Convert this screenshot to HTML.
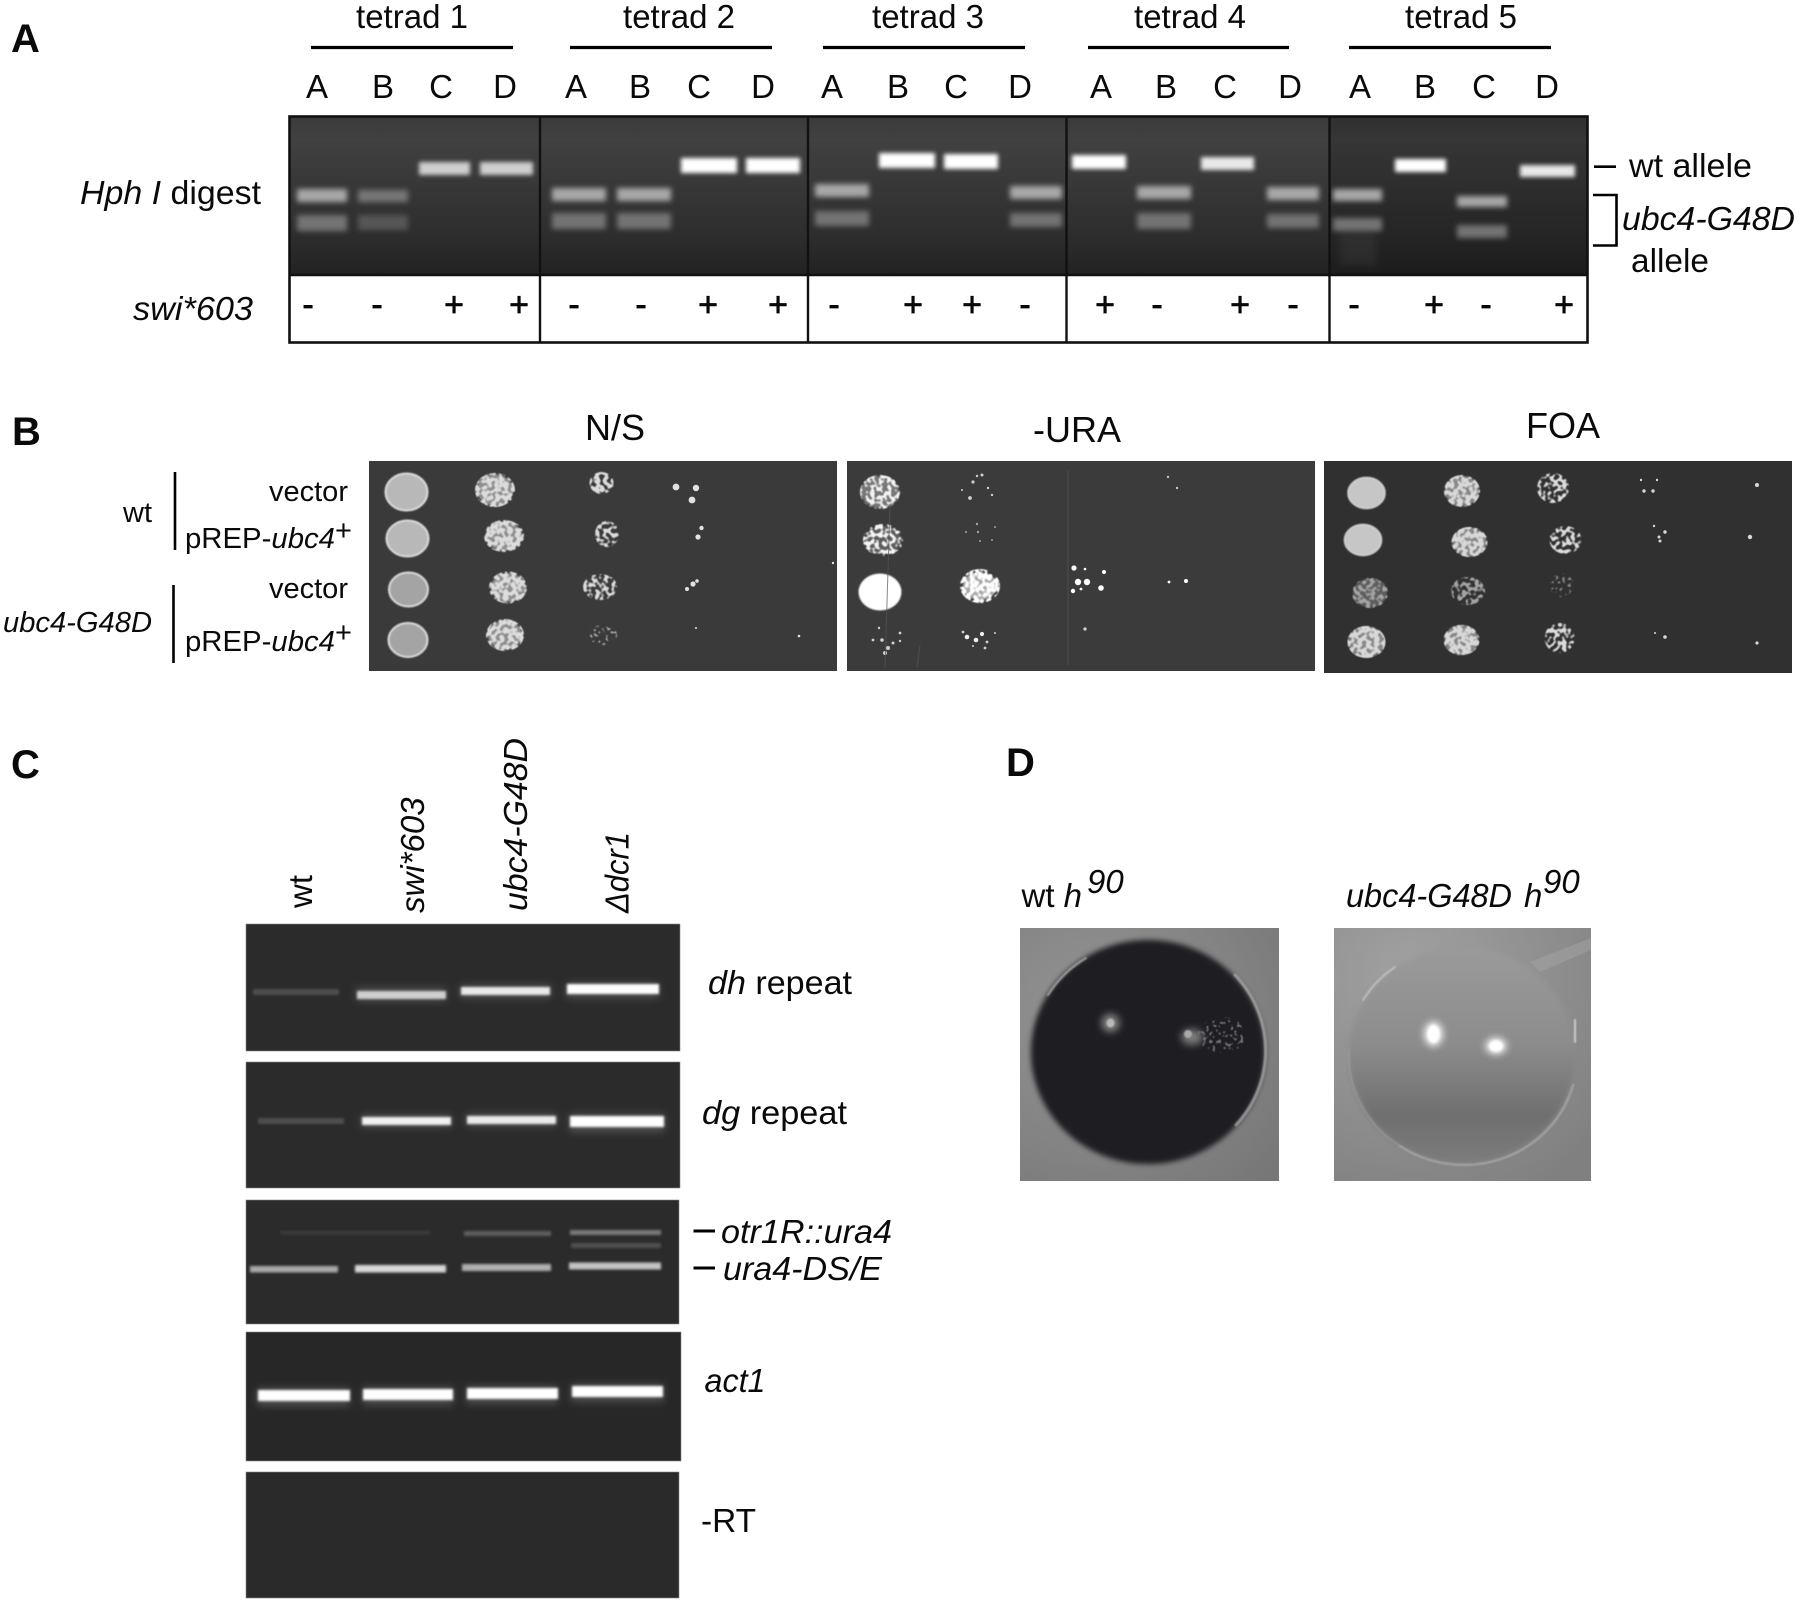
<!DOCTYPE html>
<html>
<head>
<meta charset="utf-8">
<title>Figure</title>
<style>
html,body{margin:0;padding:0;background:#fff}
svg{display:block}
text{font-family:"Liberation Sans",Arial,sans-serif;fill:#0a0a0a}
.t{font-size:33px}
.h{font-size:36px}
.s{font-size:29px}
.i{font-style:italic}
.b{font-weight:bold;font-size:40px}
.m{text-anchor:middle}
.pm{font-size:34px;text-anchor:middle;stroke:#000;stroke-width:.7px}
</style>
</head>
<body>
<svg xmlns="http://www.w3.org/2000/svg" width="1800" height="1602" viewBox="0 0 1800 1602">
<defs>
<linearGradient id="gelA" x1="0" y1="0" x2="0" y2="1">
<stop offset="0" stop-color="#3a3a3a"/><stop offset=".15" stop-color="#414141"/><stop offset=".42" stop-color="#383838"/><stop offset=".78" stop-color="#2c2c2c"/><stop offset="1" stop-color="#222"/>
</linearGradient>
<radialGradient id="bg1" cx=".3" cy=".35" r=".9"><stop offset="0" stop-color="#959595"/><stop offset="1" stop-color="#777"/></radialGradient>
<radialGradient id="bg2" cx=".3" cy=".2" r=".95"><stop offset="0" stop-color="#a2a2a2"/><stop offset="1" stop-color="#808080"/></radialGradient>
<linearGradient id="dome" x1="0" y1="0" x2="0" y2="1"><stop offset="0" stop-color="#9a9a9a"/><stop offset=".45" stop-color="#8c8c8c"/><stop offset=".78" stop-color="#6f6f6f"/><stop offset="1" stop-color="#7c7c7c"/></linearGradient>
<filter id="b3" x="-30%" y="-80%" width="160%" height="260%" color-interpolation-filters="sRGB"><feGaussianBlur stdDeviation="2.6"/></filter>
<filter id="b2" x="-20%" y="-60%" width="140%" height="220%" color-interpolation-filters="sRGB"><feGaussianBlur stdDeviation="2"/></filter>
<filter id="b1" x="-20%" y="-60%" width="140%" height="220%" color-interpolation-filters="sRGB"><feGaussianBlur stdDeviation="1.2"/></filter>
<filter id="b4" x="-20%" y="-100%" width="140%" height="300%" color-interpolation-filters="sRGB"><feGaussianBlur stdDeviation="4"/></filter>
<filter id="b3c" x="-20%" y="-20%" width="140%" height="140%" color-interpolation-filters="sRGB"><feGaussianBlur stdDeviation="2.6"/></filter>
<filter id="b6c" x="-60%" y="-60%" width="220%" height="220%" color-interpolation-filters="sRGB"><feGaussianBlur stdDeviation="4"/></filter>
<filter id="soft" x="-5%" y="-5%" width="110%" height="110%" color-interpolation-filters="sRGB"><feGaussianBlur stdDeviation=".7"/></filter>
<filter id="sp" x="-2%" y="-2%" width="104%" height="104%" color-interpolation-filters="sRGB">
<feTurbulence type="fractalNoise" baseFrequency=".24" numOctaves="1" seed="4" result="n"/>
<feColorMatrix in="n" type="matrix" values="0 0 0 0 0 0 0 0 0 0 0 0 0 0 0 9 0 0 0 -4.1" result="m"/>
<feComposite in="SourceGraphic" in2="m" operator="in"/>
<feGaussianBlur stdDeviation=".6"/>
</filter>
<filter id="spD" x="-2%" y="-2%" width="104%" height="104%" color-interpolation-filters="sRGB">
<feTurbulence type="fractalNoise" baseFrequency=".24" numOctaves="1" seed="9" result="n"/>
<feColorMatrix in="n" type="matrix" values="0 0 0 0 0 0 0 0 0 0 0 0 0 0 0 9 0 0 0 -3.6" result="m"/>
<feComposite in="SourceGraphic" in2="m" operator="in"/>
<feGaussianBlur stdDeviation=".6"/>
</filter>
<filter id="spS" x="-2%" y="-2%" width="104%" height="104%" color-interpolation-filters="sRGB">
<feTurbulence type="fractalNoise" baseFrequency=".32" numOctaves="1" seed="15" result="n"/>
<feColorMatrix in="n" type="matrix" values="0 0 0 0 0 0 0 0 0 0 0 0 0 0 0 12 0 0 0 -6.8" result="m"/>
<feComposite in="SourceGraphic" in2="m" operator="in"/>
<feGaussianBlur stdDeviation=".5"/>
</filter>
</defs>
<rect width="1800" height="1602" fill="#fff"/>

<!-- PANEL A -->
<text class="b" x="11" y="52">A</text>
<text class="t m" x="412" y="28">tetrad 1</text>
<text class="t m" x="679" y="28">tetrad 2</text>
<text class="t m" x="928" y="28">tetrad 3</text>
<text class="t m" x="1190" y="28">tetrad 4</text>
<text class="t m" x="1461" y="28">tetrad 5</text>
<g stroke="#000" stroke-width="3.2">
<line x1="311" y1="47.5" x2="513" y2="47.5"/>
<line x1="570" y1="47.5" x2="772" y2="47.5"/>
<line x1="823" y1="47.5" x2="1025" y2="47.5"/>
<line x1="1088" y1="47.5" x2="1289" y2="47.5"/>
<line x1="1349" y1="47.5" x2="1551" y2="47.5"/>
</g>
<g>
<text class="t m" x="317" y="98">A</text><text class="t m" x="383" y="98">B</text><text class="t m" x="441" y="98">C</text><text class="t m" x="505" y="98">D</text>
<text class="t m" x="576" y="98">A</text><text class="t m" x="640" y="98">B</text><text class="t m" x="699" y="98">C</text><text class="t m" x="763" y="98">D</text>
<text class="t m" x="832" y="98">A</text><text class="t m" x="898" y="98">B</text><text class="t m" x="956" y="98">C</text><text class="t m" x="1020" y="98">D</text>
<text class="t m" x="1101" y="98">A</text><text class="t m" x="1166" y="98">B</text><text class="t m" x="1225" y="98">C</text><text class="t m" x="1290" y="98">D</text>
<text class="t m" x="1360" y="98">A</text><text class="t m" x="1425" y="98">B</text><text class="t m" x="1484" y="98">C</text><text class="t m" x="1547" y="98">D</text>
</g>
<rect x="289" y="116" width="1299" height="159" fill="url(#gelA)"/>
<rect x="1329" y="116" width="259" height="159" fill="#000" opacity=".17"/>
<rect x="1340" y="230" width="36" height="36" fill="#555" opacity=".22" filter="url(#b6c)"/>
<!-- digest bands -->
<g filter="url(#b3)">
<g fill="#a8a8a8">
<rect x="297" y="189" width="50" height="13"/>
<rect x="552" y="188" width="54" height="13"/><rect x="617" y="188" width="54" height="13"/>
<rect x="815" y="184" width="54" height="13"/><rect x="1010" y="186" width="52" height="13"/>
<rect x="1137" y="186" width="54" height="13"/><rect x="1267" y="187" width="52" height="13"/>
<rect x="1333" y="189" width="49" height="12"/><rect x="1457" y="196" width="50" height="11"/>
</g>
<rect x="358" y="190" width="50" height="12" fill="#777"/>
<g fill="#737373">
<rect x="297" y="215" width="50" height="16"/><rect x="552" y="213" width="54" height="16"/><rect x="617" y="213" width="54" height="16"/>
<rect x="815" y="211" width="54" height="15"/><rect x="1010" y="213" width="52" height="14"/><rect x="1137" y="213" width="54" height="16"/>
<rect x="1267" y="214" width="52" height="14"/><rect x="1333" y="218" width="49" height="13"/><rect x="1457" y="225" width="50" height="13"/>
</g>
<rect x="358" y="215" width="50" height="15" fill="#565656"/>
</g>
<!-- wt bands -->
<g filter="url(#b2)">
<g fill="#cfcfcf">
<rect x="419" y="162" width="51" height="13"/><rect x="480" y="162" width="53" height="13"/>
</g>
<g fill="#ffffff">
<rect x="681" y="158" width="56" height="15"/><rect x="746" y="158" width="54" height="15"/>
<rect x="879" y="153" width="56" height="15"/><rect x="944" y="154" width="54" height="15"/>
<rect x="1072" y="155" width="54" height="14"/><rect x="1395" y="159" width="51" height="13"/>
</g>
<g fill="#e8e8e8">
<rect x="1201" y="157" width="53" height="13"/><rect x="1520" y="165" width="55" height="12"/>
</g>
</g>
<!-- table frame -->
<g fill="none" stroke="#111">
<rect x="289.5" y="116.5" width="1298" height="226" stroke-width="2.6"/>
<line x1="289" y1="275" x2="1588" y2="275" stroke-width="2.6"/>
<line x1="540" y1="116" x2="540" y2="343" stroke-width="2.4"/>
<line x1="808" y1="116" x2="808" y2="343" stroke-width="2.4"/>
<line x1="1066.5" y1="116" x2="1066.5" y2="343" stroke-width="2.4"/>
<line x1="1329.5" y1="116" x2="1329.5" y2="343" stroke-width="2.4"/>
</g>
<g>
<text class="pm" x="308" y="316">-</text><text class="pm" x="377" y="316">-</text><text class="pm" x="454" y="316">+</text><text class="pm" x="519" y="316">+</text>
<text class="pm" x="574" y="316">-</text><text class="pm" x="641" y="316">-</text><text class="pm" x="708" y="316">+</text><text class="pm" x="778" y="316">+</text>
<text class="pm" x="834" y="316">-</text><text class="pm" x="913" y="316">+</text><text class="pm" x="972" y="316">+</text><text class="pm" x="1025" y="316">-</text>
<text class="pm" x="1105" y="316">+</text><text class="pm" x="1157" y="316">-</text><text class="pm" x="1240" y="316">+</text><text class="pm" x="1293" y="316">-</text>
<text class="pm" x="1354" y="316">-</text><text class="pm" x="1434" y="316">+</text><text class="pm" x="1486" y="316">-</text><text class="pm" x="1564" y="316">+</text>
</g>
<text class="t" x="80" y="204" textLength="181" lengthAdjust="spacingAndGlyphs"><tspan class="i">Hph I</tspan> digest</text>
<text class="t i" x="133" y="320" textLength="120" lengthAdjust="spacingAndGlyphs">swi*603</text>
<line x1="1594" y1="166.7" x2="1616" y2="166.7" stroke="#000" stroke-width="2.6"/>
<text class="t" x="1629" y="177" textLength="123" lengthAdjust="spacingAndGlyphs">wt allele</text>
<path d="M1593 195H1616.5V245.5H1593" fill="none" stroke="#000" stroke-width="2.6"/>
<text class="t i" x="1622" y="230" textLength="173" lengthAdjust="spacingAndGlyphs">ubc4-G48D</text>
<text class="t" x="1631" y="272" textLength="78" lengthAdjust="spacingAndGlyphs">allele</text>

<!-- PANEL B -->
<text class="b" x="12" y="445">B</text>
<text class="h" x="585" y="440">N/S</text>
<text class="h" x="1033" y="442">-URA</text>
<text class="h" x="1526" y="438">FOA</text>
<text class="s" x="269" y="501">vector</text>
<text class="s" x="185" y="548" textLength="150" lengthAdjust="spacingAndGlyphs">pREP-<tspan class="i">ubc4</tspan></text>
<text class="s" x="335" y="540">+</text>
<text class="s" x="123" y="522">wt</text>
<text class="s" x="269" y="598">vector</text>
<text class="s" x="185" y="651" textLength="150" lengthAdjust="spacingAndGlyphs">pREP-<tspan class="i">ubc4</tspan></text>
<text class="s" x="335" y="642">+</text>
<text class="s i" x="3" y="632" textLength="149" lengthAdjust="spacingAndGlyphs">ubc4-G48D</text>
<line x1="175" y1="472" x2="175" y2="550" stroke="#000" stroke-width="2.6"/>
<line x1="173.5" y1="585" x2="173.5" y2="663" stroke="#000" stroke-width="2.6"/>

<rect x="369" y="461" width="468" height="210" fill="#3a3a3a"/>
<rect x="847" y="461" width="468" height="210" fill="#3b3b3b"/>
<rect x="1324" y="461" width="468" height="212" fill="#303030"/>

<!-- N/S solid -->
<g fill="#b8b8b8" stroke="#dedede" stroke-width="2" filter="url(#soft)">
<ellipse cx="406.5" cy="492" rx="21" ry="18.5"/>
<ellipse cx="407.5" cy="538.5" rx="21" ry="18"/>
<ellipse cx="408.5" cy="589.5" rx="19.5" ry="17" fill="#a4a4a4"/>
<ellipse cx="408" cy="640" rx="19.5" ry="17" fill="#a4a4a4"/>
</g>
<g fill="#8f8f8f" filter="url(#soft)">
<ellipse cx="495" cy="490" rx="18" ry="15.5"/><ellipse cx="504" cy="536" rx="18" ry="14.5"/>
<ellipse cx="508" cy="587.5" rx="17" ry="14.5"/><ellipse cx="505" cy="635" rx="17" ry="14.5"/>
</g>
<g fill="#dcdcdc" filter="url(#spD)">
<ellipse cx="495" cy="490" rx="20" ry="17"/><ellipse cx="504" cy="536" rx="20" ry="16"/>
<ellipse cx="508" cy="587.5" rx="19" ry="16"/><ellipse cx="505" cy="635" rx="19" ry="16"/>
<ellipse cx="601.5" cy="483" rx="12" ry="11"/>
</g>
<g fill="#dcdcdc" filter="url(#sp)">
<ellipse cx="607" cy="534" rx="12" ry="13"/><ellipse cx="600" cy="587" rx="17" ry="13"/>
</g>
<g fill="#b0b0b0" filter="url(#spS)"><ellipse cx="603" cy="635" rx="14" ry="10"/></g>
<g fill="#e2e2e2">
<circle cx="676" cy="487" r="3.4"/><circle cx="696" cy="488" r="3.2"/><circle cx="692" cy="500" r="3.4"/>
<circle cx="701.5" cy="528" r="2.2"/><circle cx="698" cy="537" r="2.6"/>
<circle cx="693" cy="584" r="2.6"/><circle cx="687" cy="589" r="2"/><circle cx="697" cy="581" r="1.8"/>
<circle cx="696" cy="628" r="1"/><circle cx="799" cy="636" r="1.3"/><circle cx="833" cy="563" r="1.2"/>
</g>

<!-- -URA -->
<ellipse cx="880" cy="592" rx="21.5" ry="18.5" fill="#fff" filter="url(#soft)"/>
<g fill="#777" filter="url(#soft)"><ellipse cx="880" cy="492" rx="19" ry="16"/><ellipse cx="883" cy="540" rx="18" ry="14" opacity=".6"/></g>
<g fill="#f4f4f4" filter="url(#sp)">
<ellipse cx="880" cy="492" rx="20" ry="17"/><ellipse cx="883" cy="540" rx="20" ry="16"/>
</g>
<ellipse cx="980" cy="586" rx="17" ry="14" fill="#aaa" filter="url(#soft)"/>
<g fill="#fff" filter="url(#spD)"><ellipse cx="980" cy="586" rx="20" ry="17"/></g>
<g fill="#cfcfcf">
<circle cx="970" cy="498" r="1.9"/><circle cx="982" cy="475" r="1.5"/><circle cx="973" cy="482" r="1.6"/><circle cx="977" cy="476" r="1.2"/><circle cx="988" cy="488" r="1.2"/><circle cx="992" cy="495" r="1.2"/><circle cx="962" cy="490" r="1"/>
<circle cx="977" cy="524" r="1.2" opacity=".7"/><circle cx="978" cy="532" r="1.2" opacity=".7"/><circle cx="966" cy="532" r="1" opacity=".7"/><circle cx="995" cy="527" r="1" opacity=".7"/><circle cx="980" cy="541" r="1" opacity=".7"/><circle cx="992" cy="540" r="1" opacity=".7"/>
<circle cx="879" cy="628" r="1.2"/><circle cx="882" cy="640" r="1.8"/><circle cx="873" cy="640" r="1.4"/><circle cx="900" cy="633" r="1.4"/><circle cx="893" cy="643" r="1.5"/><circle cx="900" cy="641" r="1.2"/><circle cx="885" cy="653" r="2"/><circle cx="888" cy="648" r="2"/>
<circle cx="967" cy="637" r="2.3" fill="#eee"/><circle cx="976" cy="640" r="2.3" fill="#eee"/><circle cx="982" cy="634" r="2.1" fill="#eee"/><circle cx="963" cy="632" r="1.4"/><circle cx="987" cy="642" r="1.4"/><circle cx="985" cy="648" r="1.4"/><circle cx="995" cy="633" r="1"/><circle cx="973" cy="646" r="1"/>
</g>
<g fill="#fff">
<circle cx="1074" cy="568" r="2.6"/><circle cx="1104" cy="572" r="2"/><circle cx="1078" cy="582" r="3.2"/><circle cx="1087" cy="582" r="3.2"/>
<circle cx="1101" cy="588" r="2.8"/><circle cx="1073" cy="591" r="2.2"/><circle cx="1081" cy="589" r="1.4"/><circle cx="1085" cy="569" r="1.3"/>
<circle cx="1169" cy="582" r="1.4"/><circle cx="1186" cy="581" r="2"/>
<circle cx="1168" cy="477" r="1.2" opacity=".7"/><circle cx="1177" cy="488" r="1.2" opacity=".7"/><circle cx="1085" cy="629" r="1.6" opacity=".8"/>
</g>
<g stroke="#555" stroke-width="1" opacity=".7"><line x1="1068" y1="470" x2="1068" y2="665"/><line x1="890" y1="505" x2="885" y2="668"/><line x1="920" y1="645" x2="917" y2="668"/></g>

<!-- FOA -->
<g fill="#c6c6c6" stroke="#d8d8d8" stroke-width="1.5" filter="url(#soft)">
<ellipse cx="1366.5" cy="493" rx="18.5" ry="15.5"/><ellipse cx="1363" cy="540" rx="18.5" ry="15.5"/>
</g>
<g fill="#888" filter="url(#soft)"><ellipse cx="1462" cy="491" rx="17" ry="15"/><ellipse cx="1469.5" cy="542" rx="17" ry="14.5"/><ellipse cx="1366.5" cy="642" rx="18" ry="15.5"/><ellipse cx="1461.5" cy="640" rx="17" ry="15"/><ellipse cx="1370" cy="593" rx="17" ry="14.5" fill="#5e5e5e"/></g>
<g fill="#d8d8d8" filter="url(#spD)">
<ellipse cx="1462" cy="491" rx="18" ry="16"/><ellipse cx="1469.5" cy="542" rx="18" ry="15"/><ellipse cx="1366.5" cy="642" rx="19" ry="16"/><ellipse cx="1461.5" cy="640" rx="18" ry="15"/>
</g>
<g fill="#a4a4a4" filter="url(#sp)"><ellipse cx="1370" cy="593" rx="18" ry="15"/><ellipse cx="1468" cy="591" rx="17" ry="14"/></g>
<g fill="#dcdcdc" filter="url(#sp)"><ellipse cx="1553" cy="488" rx="16" ry="15"/><ellipse cx="1565.5" cy="540" rx="16" ry="14"/><ellipse cx="1559.5" cy="638" rx="15" ry="15"/></g>
<g fill="#888" filter="url(#spS)"><ellipse cx="1561" cy="585" rx="12" ry="12"/></g>
<g fill="#d8d8d8">
<circle cx="1641" cy="480" r="1.2"/><circle cx="1657" cy="480" r="1.2"/><circle cx="1644" cy="491" r="1.7"/><circle cx="1653" cy="491" r="1.7"/><circle cx="1757" cy="485" r="2"/>
<circle cx="1654" cy="526" r="1.2"/><circle cx="1665" cy="532" r="1.7"/><circle cx="1659" cy="537" r="1.5"/><circle cx="1660" cy="541" r="1.5"/><circle cx="1750" cy="537" r="2.2"/>
<circle cx="1665" cy="637" r="1.8"/><circle cx="1655" cy="633" r="1"/><circle cx="1757" cy="643" r="1.6"/>
</g>

<!-- PANEL C -->
<text class="b" x="11" y="778">C</text>
<text class="b" x="1006" y="776">D</text>
<text class="t" transform="translate(312 908) rotate(-90)">wt</text>
<text class="t i" transform="translate(424 913) rotate(-90)">swi*603</text>
<text class="t i" transform="translate(527 911) rotate(-90)" textLength="173" lengthAdjust="spacingAndGlyphs">ubc4-G48D</text>
<text class="t i" transform="translate(628.5 913) rotate(-90)" textLength="81" lengthAdjust="spacingAndGlyphs">Δdcr1</text>

<g fill="#2b2b2b" stroke="#888" stroke-width=".6">
<rect x="246" y="924" width="434" height="127"/>
<rect x="246" y="1062" width="434" height="126"/>
<rect x="246" y="1200" width="433" height="124"/>
<rect x="246" y="1332" width="435" height="129" fill="#272727"/>
<rect x="246" y="1472" width="433" height="126" fill="#2a2a2a"/>
</g>
<!-- glow -->
<g filter="url(#b4)" opacity=".5" fill="#777">
<rect x="356" y="988" width="90" height="13"/><rect x="460" y="985" width="91" height="13"/><rect x="566" y="983" width="93" height="15"/>
<rect x="361" y="1115" width="91" height="12"/><rect x="466" y="1114" width="91" height="12"/><rect x="569" y="1114" width="96" height="18"/>
<rect x="257" y="1388" width="93" height="18"/><rect x="362" y="1387" width="92" height="18"/><rect x="466" y="1386" width="92" height="18"/><rect x="571" y="1384" width="93" height="18"/>
</g>
<g filter="url(#b1)">
<g fill="#4e4e4e"><rect x="253" y="989" width="86" height="6"/><rect x="258" y="1118" width="86" height="6"/></g>
<rect x="357" y="991" width="89" height="8" fill="#d0d0d0"/>
<rect x="461" y="987" width="89" height="8" fill="#eaeaea"/>
<rect x="567" y="984" width="92" height="10" fill="#fff"/>
<rect x="362" y="1117" width="89" height="8" fill="#f2f2f2"/>
<rect x="467" y="1116" width="89" height="8" fill="#ececec"/>
<rect x="570" y="1116" width="94" height="11" fill="#fff"/>
<rect x="250" y="1266" width="88" height="6.5" fill="#a8a8a8"/>
<rect x="355" y="1265" width="91" height="7.5" fill="#d8d8d8"/>
<rect x="462" y="1264" width="89" height="7" fill="#b0b0b0"/>
<rect x="569" y="1262.5" width="92" height="7" fill="#c4c4c4"/>
<rect x="280" y="1231" width="150" height="3.5" fill="#3c3c3c"/>
<rect x="464" y="1231" width="87" height="5" fill="#5e5e5e"/>
<rect x="570" y="1230" width="91" height="5" fill="#7a7a7a"/>
<rect x="571" y="1243" width="90" height="5" fill="#505050"/>
<rect x="258" y="1390" width="92" height="11" fill="#fff"/>
<rect x="363" y="1389" width="90" height="11" fill="#fff"/>
<rect x="467" y="1388" width="91" height="11" fill="#fff"/>
<rect x="572" y="1386" width="91" height="11" fill="#fff"/>
</g>
<text class="t" x="708" y="994" textLength="144" lengthAdjust="spacingAndGlyphs"><tspan class="i">dh</tspan> repeat</text>
<text class="t" x="702" y="1124" textLength="145" lengthAdjust="spacingAndGlyphs"><tspan class="i">dg</tspan> repeat</text>
<line x1="693.5" y1="1231" x2="715" y2="1231" stroke="#000" stroke-width="3"/>
<text class="t i" x="721" y="1243" textLength="171" lengthAdjust="spacingAndGlyphs">otr1R::ura4</text>
<line x1="693.5" y1="1268" x2="715" y2="1268" stroke="#000" stroke-width="3"/>
<text class="t i" x="723" y="1280" textLength="159" lengthAdjust="spacingAndGlyphs">ura4-DS/E</text>
<text class="t i" x="704.5" y="1392" textLength="61" lengthAdjust="spacingAndGlyphs">act1</text>
<text class="t" x="701" y="1532" textLength="55" lengthAdjust="spacingAndGlyphs">-RT</text>

<!-- PANEL D -->
<text class="t" x="1021.5" y="907">wt <tspan class="i">h</tspan></text>
<text class="t i" x="1087" y="893">90</text>
<text class="t i" x="1346" y="907" textLength="166" lengthAdjust="spacingAndGlyphs">ubc4-G48D</text>
<text class="t i" x="1524" y="907">h</text>
<text class="t i" x="1543" y="893">90</text>

<rect x="1020" y="928" width="259" height="253" fill="url(#bg1)"/>
<ellipse cx="1148" cy="1052" rx="117" ry="112" fill="#1d1d22" filter="url(#b3c)"/>
<g fill="none" stroke-linecap="round" filter="url(#soft)">
<path d="M1048 995A117 112 0 0 1 1086 958" stroke="#c4c4c4" stroke-width="2" opacity=".7"/>
<path d="M1235 975A117 112 0 0 1 1236 1125" stroke="#b0b0b0" stroke-width="3" opacity=".7"/>
</g>
<g filter="url(#b6c)">
<ellipse cx="1110.5" cy="1023" rx="9" ry="9" fill="#888"/>
<ellipse cx="1192" cy="1037" rx="11" ry="8" fill="#7c7c7c"/>
</g>
<g filter="url(#soft)"><ellipse cx="1110.5" cy="1023" rx="4" ry="4.5" fill="#b8b8b8"/><ellipse cx="1188" cy="1034" rx="4" ry="4" fill="#a8a8a8"/></g>
<g fill="#777" filter="url(#spS)"><ellipse cx="1222" cy="1035" rx="24" ry="18"/></g>

<rect x="1334" y="928" width="257" height="253" fill="url(#bg2)"/>
<polygon points="1530,962 1591,938 1591,950 1540,972" fill="#b0b0b0" opacity=".35"/>
<ellipse cx="1462" cy="1055" rx="113" ry="108" fill="url(#dome)" filter="url(#b3c)"/>
<g fill="none" stroke-linecap="round" filter="url(#soft)">
<path d="M1363 1000A113 108 0 0 1 1395 967" stroke="#c8c8c8" stroke-width="2" opacity=".75"/>
<path d="M1573 1085A113 108 0 0 1 1400 1146" stroke="#b8b8b8" stroke-width="2.5" opacity=".55"/>
<path d="M1349 1050A113 108 0 0 0 1400 1146" stroke="#a8a8a8" stroke-width="2" opacity=".4"/>
<path d="M1575 1020V1042" stroke="#ddd" stroke-width="2" opacity=".8"/>
</g>
<g filter="url(#b6c)" fill="#fff"><ellipse cx="1433.5" cy="1034" rx="9" ry="12"/><ellipse cx="1496" cy="1046" rx="10" ry="8"/></g>
<g fill="#fff" filter="url(#b1)"><ellipse cx="1433.5" cy="1034" rx="6" ry="9"/><ellipse cx="1496" cy="1046" rx="7" ry="5.5"/></g>
</svg>
</body>
</html>
